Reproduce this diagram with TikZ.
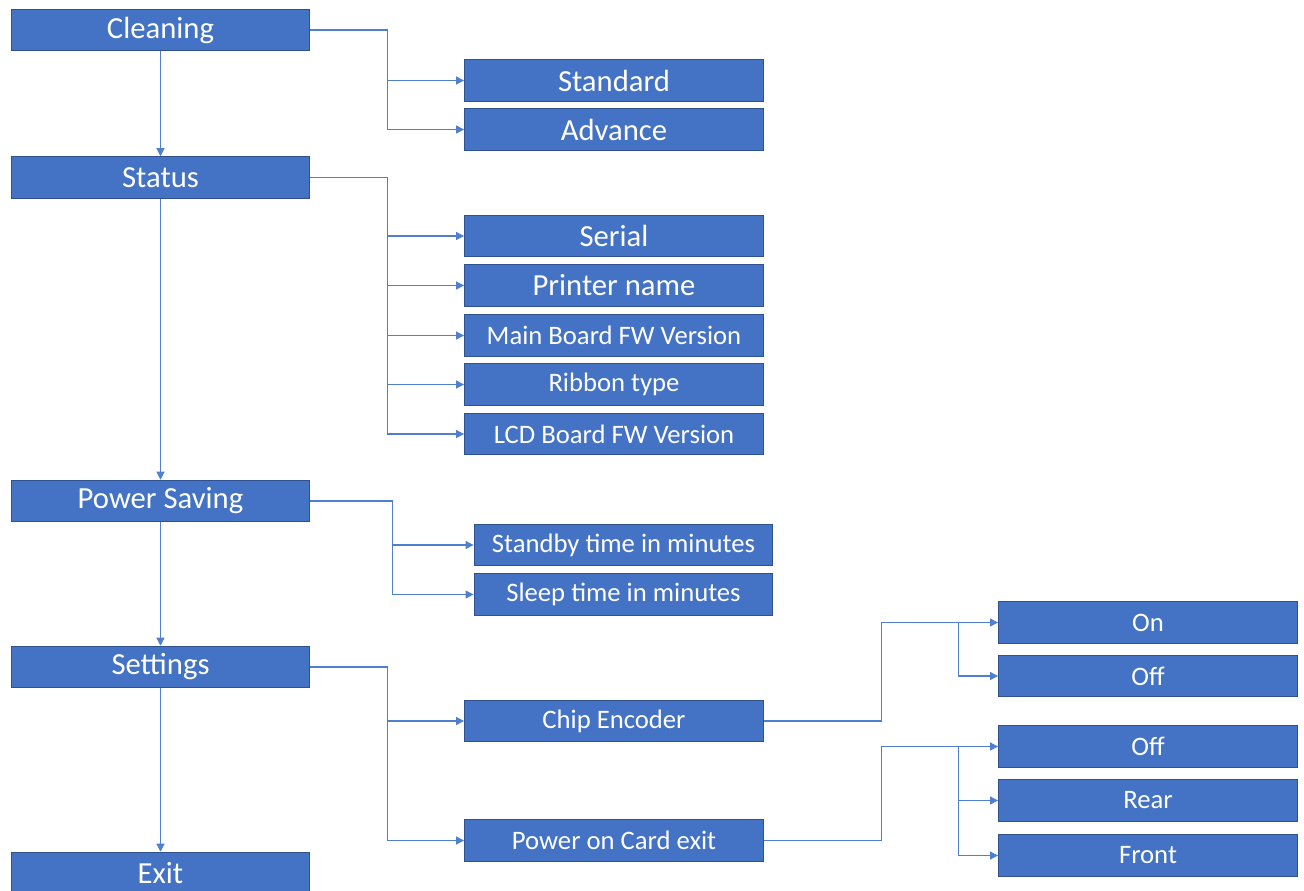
\documentclass[tikz,border=0pt]{standalone}
\usepackage{fontspec}
\setmainfont{Carlito}
\usepackage{tikz}
\usetikzlibrary{arrows.meta}
\definecolor{boxblue}{HTML}{4472C4}
\definecolor{boxedge}{HTML}{2F528F}
\definecolor{linkblue}{HTML}{4F7FCF}

\begin{document}
\begin{tikzpicture}[x=0.75pt,y=-0.75pt]
		\useasboundingbox (0,0) rectangle (1304,890);
		\begin{scope}[every node/.style={rectangle,fill=boxblue,draw=boxedge,line width=0.9pt,
		              text=white,inner sep=0pt,minimum width=224pt,minimum height=31pt,
		              font=\fontsize{23}{26}\selectfont}]
			\node (clean) at (160.5,30) {Cleaning};
			\node (stat) at (160.5,177.5) {Status};
			\node (psave) at (160.5,501) {Power Saving};
			\node (sett) at (160.5,667) {Settings};
			\node (exit) at (160.5,873) {Exit};
			\node (std) at (614,80.5) {Standard};
			\node (adv) at (614,129.5) {Advance};
			\node (serial) at (614,236) {Serial};
			\node (pname) at (614,285.5) {Printer name};
		\end{scope}

		\begin{scope}[every node/.style={rectangle,fill=boxblue,draw=boxedge,line width=0.9pt,
		              text=white,inner sep=0pt,minimum width=224pt,minimum height=31pt,
		              font=\fontsize{20}{24}\selectfont}]
			\node (mainfw) at (614,335.5) {Main Board FW Version};
			\node (ribbon) at (614,384.5) {Ribbon type};
			\node (lcdfw) at (614,434) {LCD Board FW Version};
			\node (standby) at (623.5,545) {Standby time in minutes};
			\node (sleep) at (623.5,594.5) {Sleep time in minutes};
			\node (chip) at (614,721) {Chip Encoder};
			\node (card) at (614,840.5) {Power on Card exit};
			\node (on) at (1148,622.5) {On};
			\node (off) at (1148,676) {Off};
			\node (cardoff) at (1148,746.5) {Off};
			\node (rear) at (1148,800.5) {Rear};
			\node (front) at (1148,855.5) {Front};
		\end{scope}

		\begin{scope}[>={Triangle[length=6pt,width=6pt]},
		              every edge/.style={draw=linkblue,line width=0.8pt,->}]
			\path (clean) edge (stat);
			\path (stat) edge (psave);
			\path (psave) edge (sett);
			\path (sett) edge (exit);
		\end{scope}

		\begin{scope}[>={Triangle[length=6pt,width=6pt]},
		              every path/.style={draw=linkblue,line width=0.8pt}]
			\foreach \t in {std,adv}
				\draw[->] (clean.east) -- ++(77,0) |- (\t.west);
			\foreach \t in {serial,pname,mainfw,ribbon,lcdfw}
				\draw[->] (stat.east) -- ++(77,0) |- (\t.west);
			\foreach \t in {standby,sleep}
				\draw[->] (psave.east) -- ++(82,0) |- (\t.west);
			\foreach \t in {chip,card}
				\draw[->] (sett.east) -- ++(77,0) |- (\t.west);
			\draw[->] (chip.east) -- ++(118,0) |- (on.west);
			\draw[->] (on.west) ++(-40,0) |- (off.west);
			\draw[->] (card.east) -- ++(118,0) |- (cardoff.west);
			\foreach \t in {rear,front}
				\draw[->] (cardoff.west) ++(-40,0) |- (\t.west);
		\end{scope}
\end{tikzpicture}
\end{document}
